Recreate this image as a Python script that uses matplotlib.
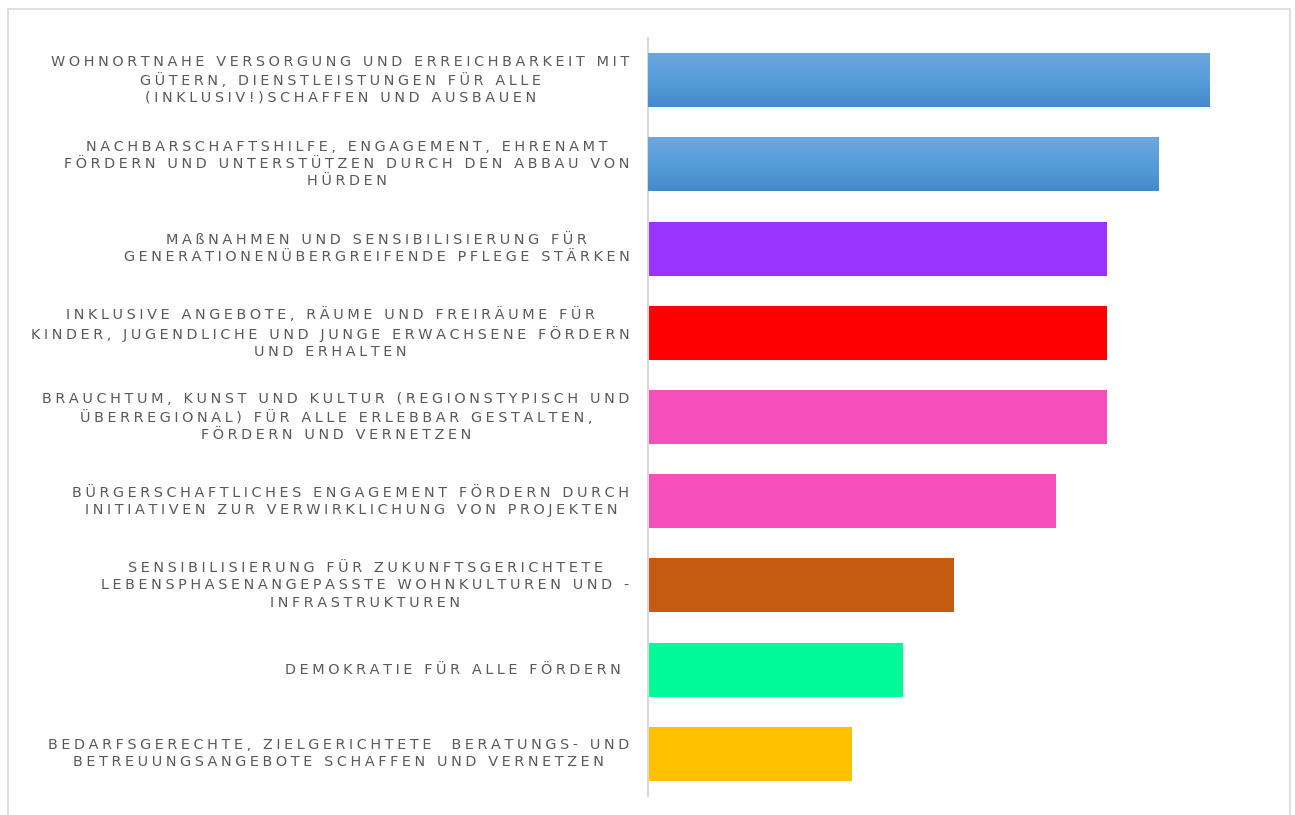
import numpy as np
import matplotlib
matplotlib.use("Agg")
import matplotlib.pyplot as plt
from matplotlib.patches import Rectangle

labels = [
    "WOHNORTNAHE VERSORGUNG UND ERREICHBARKEIT MIT\nGÜTERN, DIENSTLEISTUNGEN FÜR ALLE\n(INKLUSIV!)SCHAFFEN UND AUSBAUEN",
    "NACHBARSCHAFTSHILFE, ENGAGEMENT, EHRENAMT\nFÖRDERN UND UNTERSTÜTZEN DURCH DEN ABBAU VON\nHÜRDEN",
    "MAßNAHMEN UND SENSIBILISIERUNG FÜR\nGENERATIONENÜBERGREIFENDE PFLEGE STÄRKEN",
    "INKLUSIVE ANGEBOTE, RÄUME UND FREIRÄUME FÜR\nKINDER, JUGENDLICHE UND JUNGE ERWACHSENE FÖRDERN\nUND ERHALTEN",
    "BRAUCHTUM, KUNST UND KULTUR (REGIONSTYPISCH UND\nÜBERREGIONAL) FÜR ALLE ERLEBBAR GESTALTEN,\nFÖRDERN UND VERNETZEN",
    "BÜRGERSCHAFTLICHES ENGAGEMENT FÖRDERN DURCH\nINITIATIVEN ZUR VERWIRKLICHUNG VON PROJEKTEN",
    "SENSIBILISIERUNG FÜR ZUKUNFTSGERICHTETE\nLEBENSPHASENANGEPASSTE WOHNKULTUREN UND -\nINFRASTRUKTUREN",
    "DEMOKRATIE FÜR ALLE FÖRDERN ",
    "BEDARFSGERECHTE, ZIELGERICHTETE  BERATUNGS- UND\nBETREUUNGSANGEBOTE SCHAFFEN UND VERNETZEN",
]
values = [11, 10, 9, 9, 9, 8, 6, 5, 4]
colors = ["#5a9ddb", "#5a9ddb", "#9933ff", "#ff0000", "#f54fbb",
          "#f54fbb", "#c55a11", "#00fa9a", "#ffc000"]
gradient = [True, True, False, False, False, False, False, False, False]


def spaced(s):
    # fake letter spacing with four-per-em spaces
    return "\n".join("\u2005".join(line) for line in s.split("\n"))


fig = plt.figure(figsize=(12.95, 8.15), dpi=100)
fig.patches.append(Rectangle((8 / 1295, -0.05), 1282 / 1295, (815 - 9) / 815 + 0.05,
                             transform=fig.transFigure, fill=False,
                             edgecolor="#d9d9d9", linewidth=1.2))
ax = fig.add_axes([647.5 / 1295, 19 / 815, (1260 - 647.5) / 1295, (796 - 38) / 815])

y = np.arange(len(values))
bars = ax.barh(y, values, height=0.64, color=colors, zorder=2)

grad = np.linspace(0, 1, 100).reshape(-1, 1)
cmap = matplotlib.colors.LinearSegmentedColormap.from_list(
    "g", ["#6fa7dd", "#559ddb", "#448aca"])
for b, g in zip(bars, gradient):
    if g:
        x0, y0 = b.get_x(), b.get_y()
        w, h = b.get_width(), b.get_height()
        im = ax.imshow(grad, cmap=cmap, aspect="auto", zorder=3,
                       extent=[x0, x0 + w, y0 + h, y0], origin="upper")
        im.set_clip_path(b)

ax.set_xlim(0, 12)
ax.set_ylim(len(values) - 0.5, -0.5)
ax.set_yticks(y)
ax.set_yticklabels([spaced(l) for l in labels], fontsize=10.4, color="#595959",
                   linespacing=1.28, va="center")
for t in ax.get_yticklabels():
    t.set_multialignment("center")
ax.tick_params(axis="y", length=0, pad=13)
ax.set_xticks([])
for s in ["top", "right", "bottom"]:
    ax.spines[s].set_visible(False)
ax.spines["left"].set_color("#d9d9d9")
ax.spines["left"].set_linewidth(1.5)

fig.savefig("out.png", dpi=100)
